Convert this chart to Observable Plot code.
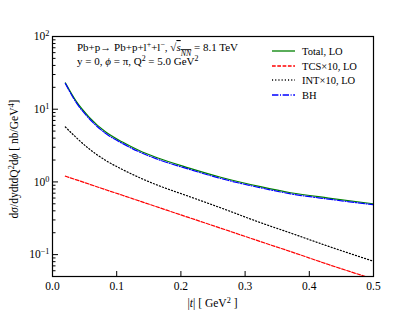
<!DOCTYPE html>
<html><head><meta charset="utf-8">
<script src="https://cdn.jsdelivr.net/npm/d3@7"></script>
<script src="https://cdn.jsdelivr.net/npm/@observablehq/plot@0.6"></script>
<style>body{margin:0;background:#fff} #chart{position:relative;width:415px;height:311px}</style>
</head><body><div id="chart"></div>
<script>
const FONT = "Liberation Serif, DejaVu Serif, serif";

// |t| grid (GeV^2) and curve values
const tGrid   = [0.02, 0.036, 0.057, 0.083, 0.109, 0.135, 0.161, 0.213, 0.262, 0.324, 0.371, 0.43, 0.5];
const totalLO = [23, 13.2, 7.8, 4.85, 3.53, 2.70, 2.18, 1.55, 1.16, 0.86, 0.71, 0.60, 0.50];
const tcsX10  = [1.2, 1.077, 0.933, 0.78, 0.655, 0.548, 0.459, 0.322, 0.231, 0.151, 0.110, 0.073, 0.046];
const intX10  = [5.7, 4.15, 2.85, 1.97, 1.48, 1.15, 0.92, 0.63, 0.44, 0.275, 0.198, 0.13, 0.081];
const bhLO    = [22.6, 12.7, 7.45, 4.63, 3.38, 2.59, 2.09, 1.49, 1.115, 0.83, 0.685, 0.58, 0.485];

const seriesNames  = ["Total, LO", "TCS×10, LO", "INT×10, LO", "BH"];
const seriesValues = [totalLO, tcsX10, intX10, bhLO];
const seriesColors = ["#008000", "#ff0000", "#000000", "#0000ff"];
const seriesDash   = [null, "3.7,1.6", "1.1,2.1", "6.4,1.6,1,1.6"];

const xTicks = [0, 0.1, 0.2, 0.3, 0.4, 0.5];
const xTickLabels = ["0.0", "0.1", "0.2", "0.3", "0.4", "0.5"];
const yMajor = [0.1, 1, 10, 100];
const yMajorLabels = ["10^{−1}", "10^{0}", "10^{1}", "10^{2}"];
const yMinor = [0.05, 0.06, 0.07, 0.08, 0.09, 0.2, 0.3, 0.4, 0.5, 0.6, 0.7, 0.8, 0.9,
                2, 3, 4, 5, 6, 7, 8, 9, 20, 30, 40, 50, 60, 70, 80, 90];

const annotation = ["Pb+p→ Pb+p+l^{+}+l^{−}, √~{*{s}_{*{NN}}} = 8.1 TeV", "y = 0, *{ϕ} = π, Q^{2} = 5.0 GeV^{2}"];
const xLabel = "|*{t}| [ GeV^{2} ]";
const yLabel = "d*{σ}/dydtdQ^{2}d*{ϕ} [ nb/GeV^{4}]";

const rows = [];
seriesNames.forEach((name, s) => tGrid.forEach((t, i) => rows.push({series: name, t, v: seriesValues[s][i]})));

function decor(index, scales, values, dimensions) {
  const {width, height, marginLeft, marginRight, marginTop, marginBottom} = dimensions;
  const g = d3.create("svg:g").attr("font-family", FONT).attr("fill", "black").attr("text-anchor", "start");
  // annotation
  annotation.forEach((txt, i) => {
    g.append("text").attr("x", marginLeft + 25).attr("y", marginTop + 15 + i * 14)
      .attr("font-size", 11).text(txt);
  });
  // legend
  const lx = width - marginRight - 101;
  seriesNames.forEach((name, i) => {
    const cy = Math.round(marginTop + 15 + i * 14.5);
    g.append("line").attr("x1", lx).attr("x2", lx + 23).attr("y1", cy).attr("y2", cy)
      .attr("stroke", seriesColors[i]).attr("stroke-width", 1.3)
      .attr("stroke-dasharray", seriesDash[i]);
    g.append("text").attr("x", lx + 30).attr("y", cy + 3.8).attr("font-size", 10.5).text(name);
  });
  // axis titles
  g.append("text").attr("x", (marginLeft + width - marginRight) / 2).attr("y", height - 4.5)
    .attr("text-anchor", "middle").attr("font-size", 11.5).text(xLabel);
  g.append("text").attr("transform", `translate(17.5,${(marginTop + height - marginBottom) / 2 + 3}) rotate(-90)`)
    .attr("text-anchor", "middle").attr("font-size", 11.5).text(yLabel);
  return g.node();
}

const chart = Plot.plot({
  width: 415, height: 311,
  marginLeft: 52, marginRight: 42, marginTop: 36, marginBottom: 35,
  style: {fontFamily: FONT, fontSize: "11.5px", background: "#fff", color: "black"},
  x: {domain: [0, 0.5]},
  y: {type: "log", domain: [0.05, 100]},
  marks: [
    seriesNames.map((name, s) => Plot.line(rows.filter(r => r.series === name), {
      x: "t", y: "v", stroke: seriesColors[s], strokeWidth: 1.2,
      strokeDasharray: seriesDash[s], curve: "monotone-x", clip: true
    })),
    Plot.axisX(xTicks, {tickSize: -5, fill: "none", label: null}),
    Plot.axisX(xTicks, {tickSize: 0, tickPadding: 5, tickFormat: d => xTickLabels[xTicks.indexOf(d)], label: null}),
    Plot.axisY(yMajor, {tickSize: -6, fill: "none", label: null}),
    Plot.axisY(yMinor, {tickSize: -3.5, fill: "none", label: null}),
    Plot.axisY(yMajor, {tickSize: 0, tickPadding: 3, tickFormat: d => yMajorLabels[yMajor.indexOf(d)], label: null}),
    Plot.frame({stroke: "black", strokeWidth: 1.2}),
    decor
  ]
});
document.getElementById("chart").appendChild(chart);

// rich text: ^{sup} _{sub} *{italic} ~{overline}
function richify(el) {
  const src = el.textContent;
  if (!/[\^_*~]\{/.test(src)) return;
  el.textContent = "";
  function parse(str, parent) {
    let i = 0, buf = "";
    const flush = () => { if (buf) { parent.appendChild(document.createTextNode(buf)); buf = ""; } };
    while (i < str.length) {
      const c = str[i];
      if ("^_*~".includes(c) && str[i + 1] === "{") {
        flush();
        let depth = 1, j = i + 2;
        while (j < str.length && depth) { if (str[j] === "{") depth++; else if (str[j] === "}") depth--; j++; }
        const inner = str.slice(i + 2, j - 1);
        const ts = document.createElementNS("http://www.w3.org/2000/svg", "tspan");
        if (c === "^") { ts.setAttribute("baseline-shift", "super"); ts.setAttribute("font-size", "72%"); }
        if (c === "_") { ts.setAttribute("baseline-shift", "sub"); ts.setAttribute("font-size", "72%"); }
        if (c === "*") { ts.setAttribute("font-style", "italic"); }
        if (c === "~") { ts.setAttribute("text-decoration", "overline"); }
        parse(inner, ts);
        parent.appendChild(ts);
        i = j;
      } else { buf += c; i++; }
    }
    flush();
  }
  parse(src, el);
}
chart.querySelectorAll("text").forEach(richify);
</script>
</body></html>
